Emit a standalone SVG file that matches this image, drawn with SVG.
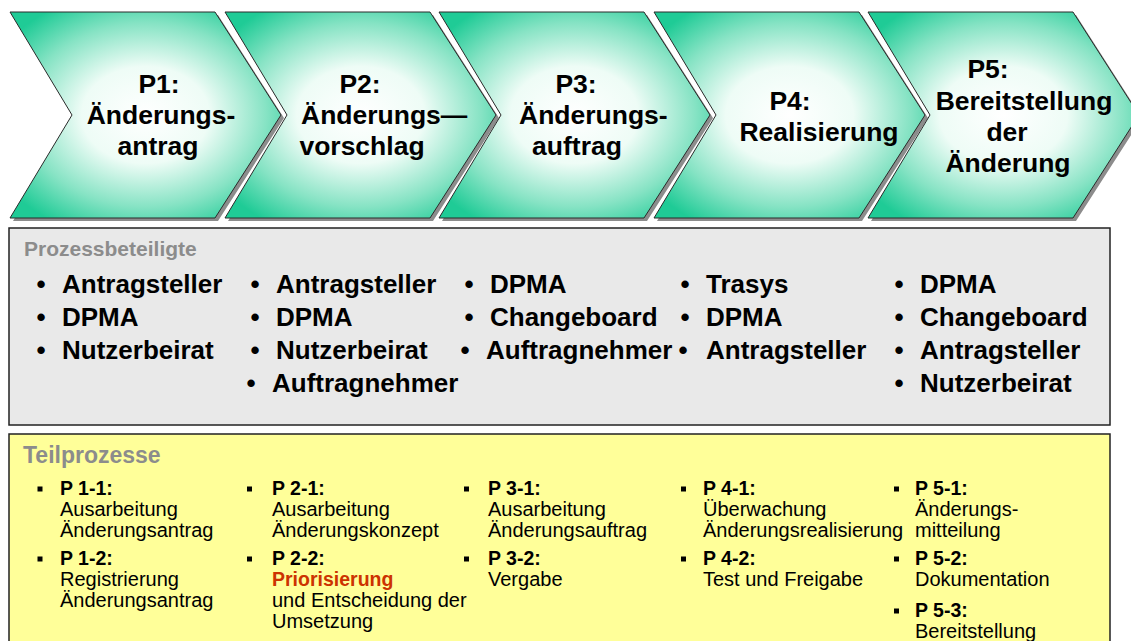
<svg xmlns="http://www.w3.org/2000/svg" xmlns:xlink="http://www.w3.org/1999/xlink" width="1131" height="641" viewBox="0 0 1131 641">
<style>
text{font-family:"Liberation Sans",Arial,"DejaVu Sans",sans-serif;}
.ct{font-size:26.5px;font-weight:bold;fill:#000;text-anchor:middle;}
.cs{font-size:26.5px;font-weight:bold;fill:#000;}
.shadow{fill:#8c8c8c;}
.chev{fill:url(#grad);stroke:#2a2a2a;stroke-width:1;}
.hdr{font-weight:bold;fill:#8c8c8c;}
.pb{font-size:26px;font-weight:bold;fill:#000;}
.bul{font-size:26px;font-weight:bold;fill:#000;text-anchor:middle;}
.tp{font-size:20px;fill:#000;}
.tpb{font-size:19.5px;font-weight:bold;fill:#000;}
.red{font-size:19.5px;font-weight:bold;fill:#cc3300;}
.sq{fill:#000;}
</style>
<defs>
<radialGradient id="grad" cx="0.5" cy="0.5" r="0.62">
<stop offset="0" stop-color="#ffffff"/>
<stop offset="0.38" stop-color="#eefcf6"/>
<stop offset="0.72" stop-color="#86e3c4"/>
<stop offset="1" stop-color="#1fcb96"/>
</radialGradient>
<polygon id="chevShape" points="10,12 215,12 281,115 215,218 10,218 72,115"/>
</defs>
<rect x="0" y="0" width="1131" height="641" fill="#ffffff"/>

<g id="connectors"></g>

<g id="p1">
<use xlink:href="#chevShape" href="#chevShape" class="shadow" x="3" y="3"/>
<use xlink:href="#chevShape" href="#chevShape" class="chev" x="0" y="0"/>
<text class="ct" x="159" y="93">P1:</text>
<text class="ct" x="161" y="124">Änderungs-</text>
<text class="ct" x="158" y="155">antrag</text>
</g>

<g id="p2">
<use xlink:href="#chevShape" href="#chevShape" class="shadow" x="218" y="3"/>
<use xlink:href="#chevShape" href="#chevShape" class="chev" x="215" y="0"/>
<text class="ct" x="360" y="93">P2:</text>
<text class="cs" x="301" y="124">Änderungs—</text>
<text class="ct" x="362" y="155">vorschlag</text>
</g>

<g id="p3">
<use xlink:href="#chevShape" href="#chevShape" class="shadow" x="432" y="3"/>
<use xlink:href="#chevShape" href="#chevShape" class="chev" x="429" y="0"/>
<text class="ct" x="576" y="93">P3:</text>
<text class="cs" x="519" y="124">Änderungs-</text>
<text class="ct" x="577" y="155">auftrag</text>
</g>

<g id="p4">
<use xlink:href="#chevShape" href="#chevShape" class="shadow" x="647" y="3"/>
<use xlink:href="#chevShape" href="#chevShape" class="chev" x="644" y="0"/>
<text class="ct" x="790" y="110">P4:</text>
<text class="ct" x="819" y="141">Realisierung</text>
</g>

<g id="p5">
<use xlink:href="#chevShape" href="#chevShape" class="shadow" x="861" y="3"/>
<use xlink:href="#chevShape" href="#chevShape" class="chev" x="858" y="0"/>
<text class="ct" x="988" y="78">P5:</text>
<text class="ct" x="1024" y="110">Bereitstellung</text>
<text class="ct" x="1007" y="141">der</text>
<text class="ct" x="1008" y="172">Änderung</text>
</g>

<g id="prozessbeteiligte">
<rect x="9" y="228" width="1101" height="197" fill="#e9e9e9" stroke="#222" stroke-width="1.5"/>
<text class="hdr" x="24" y="256" font-size="21">Prozessbeteiligte</text>
<text class="bul" x="41" y="293">•</text><text class="pb" x="62" y="293">Antragsteller</text>
<text class="bul" x="41" y="326">•</text><text class="pb" x="62" y="326">DPMA</text>
<text class="bul" x="41" y="359">•</text><text class="pb" x="62" y="359">Nutzerbeirat</text>

<text class="bul" x="255" y="293">•</text><text class="pb" x="276" y="293">Antragsteller</text>
<text class="bul" x="255" y="326">•</text><text class="pb" x="276" y="326">DPMA</text>
<text class="bul" x="255" y="359">•</text><text class="pb" x="276" y="359">Nutzerbeirat</text>
<text class="bul" x="251" y="392">•</text><text class="pb" x="272" y="392">Auftragnehmer</text>

<text class="bul" x="469" y="293">•</text><text class="pb" x="490" y="293">DPMA</text>
<text class="bul" x="469" y="326">•</text><text class="pb" x="490" y="326">Changeboard</text>
<text class="bul" x="465" y="359">•</text><text class="pb" x="486" y="359">Auftragnehmer</text>

<text class="bul" x="685" y="293">•</text><text class="pb" x="706" y="293">Trasys</text>
<text class="bul" x="685" y="326">•</text><text class="pb" x="706" y="326">DPMA</text>
<text class="bul" x="683" y="359">•</text><text class="pb" x="706" y="359">Antragsteller</text>

<text class="bul" x="899" y="293">•</text><text class="pb" x="920" y="293">DPMA</text>
<text class="bul" x="899" y="326">•</text><text class="pb" x="920" y="326">Changeboard</text>
<text class="bul" x="899" y="359">•</text><text class="pb" x="920" y="359">Antragsteller</text>
<text class="bul" x="899" y="392">•</text><text class="pb" x="920" y="392">Nutzerbeirat</text>
</g>

<g id="teilprozesse">
<rect x="9" y="434" width="1101" height="220" fill="#ffff99" stroke="#222" stroke-width="1.5"/>
<text class="hdr" x="23" y="463" font-size="23">Teilprozesse</text>
<rect class="sq" x="37.5" y="486.5" width="5" height="5"/>
<rect class="sq" x="37.5" y="556.5" width="5" height="5"/>
<rect class="sq" x="247" y="486.5" width="5" height="5"/>
<rect class="sq" x="247" y="556.5" width="5" height="5"/>
<rect class="sq" x="464" y="486.5" width="5" height="5"/>
<rect class="sq" x="464" y="556.5" width="5" height="5"/>
<rect class="sq" x="681" y="486.5" width="5" height="5"/>
<rect class="sq" x="681" y="556.5" width="5" height="5"/>
<rect class="sq" x="894" y="486.5" width="5" height="5"/>
<rect class="sq" x="894" y="556.5" width="5" height="5"/>
<rect class="sq" x="894" y="608.5" width="5" height="5"/>

<text class="tpb" x="60" y="495">P 1-1:</text>
<text class="tp" x="60" y="516">Ausarbeitung</text>
<text class="tp" x="60" y="537">Änderungsantrag</text>
<text class="tpb" x="60" y="565">P 1-2:</text>
<text class="tp" x="60" y="586">Registrierung</text>
<text class="tp" x="60" y="607">Änderungsantrag</text>

<text class="tpb" x="272" y="495">P 2-1:</text>
<text class="tp" x="272" y="516">Ausarbeitung</text>
<text class="tp" x="272" y="537">Änderungskonzept</text>
<text class="tpb" x="272" y="565">P 2-2:</text>
<text class="red" x="272" y="586">Priorisierung</text>
<text class="tp" x="272" y="607">und Entscheidung der</text>
<text class="tp" x="272" y="628">Umsetzung</text>

<text class="tpb" x="488" y="495">P 3-1:</text>
<text class="tp" x="488" y="516">Ausarbeitung</text>
<text class="tp" x="488" y="537">Änderungsauftrag</text>
<text class="tpb" x="488" y="565">P 3-2:</text>
<text class="tp" x="488" y="586">Vergabe</text>

<text class="tpb" x="703" y="495">P 4-1:</text>
<text class="tp" x="703" y="516">Überwachung</text>
<text class="tp" x="703" y="537">Änderungsrealisierung</text>
<text class="tpb" x="703" y="565">P 4-2:</text>
<text class="tp" x="703" y="586">Test und Freigabe</text>

<text class="tpb" x="915" y="495">P 5-1:</text>
<text class="tp" x="915" y="516">Änderungs-</text>
<text class="tp" x="915" y="537">mitteilung</text>
<text class="tpb" x="915" y="565">P 5-2:</text>
<text class="tp" x="915" y="586">Dokumentation</text>
<text class="tpb" x="915" y="617">P 5-3:</text>
<text class="tp" x="915" y="638">Bereitstellung</text>
</g>
</svg>
